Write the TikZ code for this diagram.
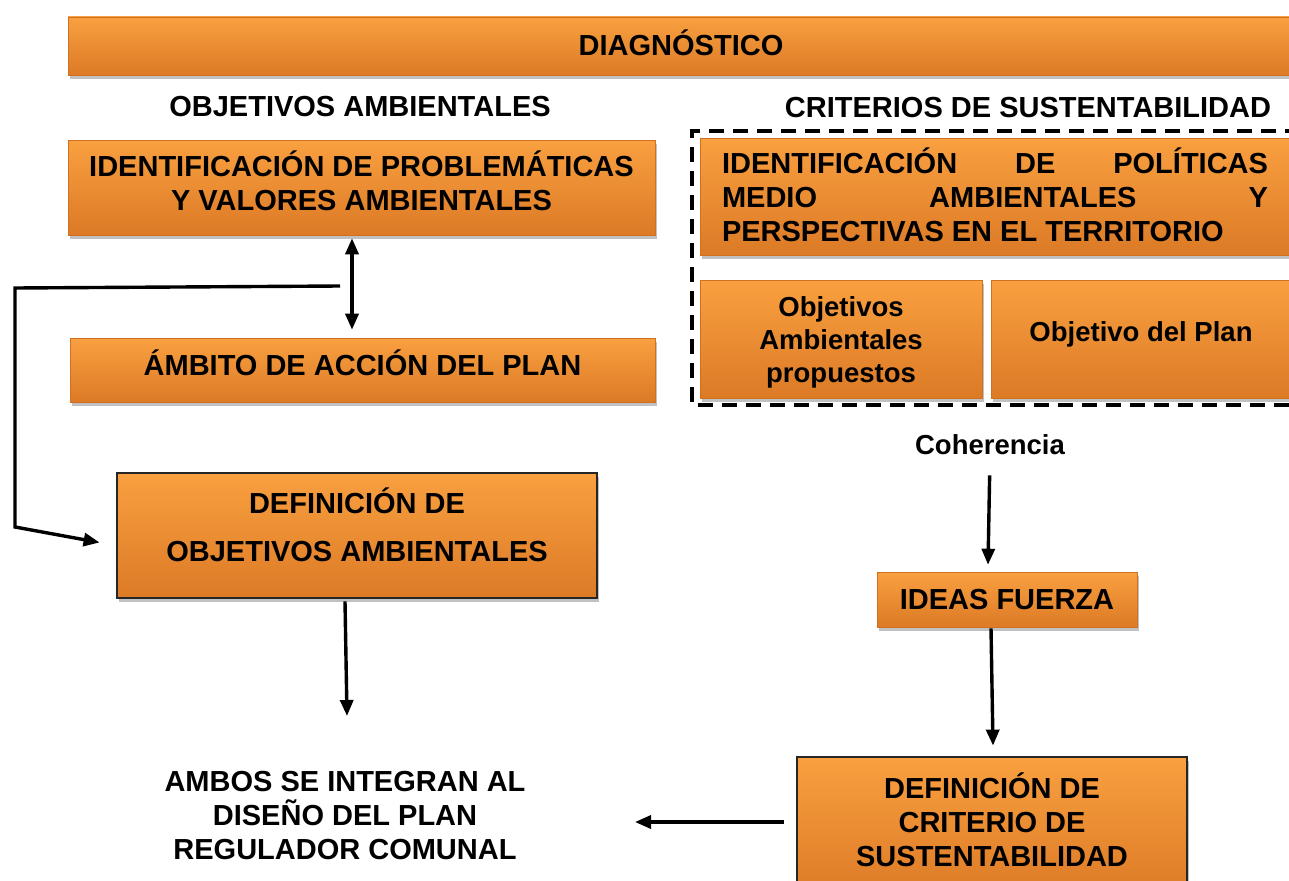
\documentclass[tikz,border=0pt]{standalone}
\usepackage{fontspec}
\setmainfont{Liberation Sans}
\usetikzlibrary{shadows,arrows.meta}
\definecolor{oTop}{HTML}{F9A040}
\definecolor{oMid}{HTML}{F69331}
\definecolor{oBot}{HTML}{DC7A26}
\definecolor{oEdge}{HTML}{D07020}
\newcommand\bigtxt{\fontsize{29}{34}\selectfont\bfseries}
\newcommand\lowtxt{\fontsize{27.5}{33}\selectfont\bfseries}
\newcommand\rb[2]{\raisebox{#1}[0pt][0pt]{\begin{tabular}{@{}c@{}}#2\end{tabular}}}
\begin{document}
\begin{tikzpicture}[x=1pt,y=-1pt,
  obox/.style={rectangle, inner sep=0pt, top color=oTop, middle color=oMid, bottom color=oBot,
    draw=oEdge, line width=0.6pt, align=center, font=\bigtxt,
    drop shadow={shadow xshift=2pt, shadow yshift=-4pt, opacity=0.35, fill=black!70}},
  dbox/.style={obox, draw=black!85, line width=2.8pt},
  plain/.style={inner sep=0pt, align=center, font=\bigtxt},
  arr/.style={line width=3.4pt, -{Triangle[length=16pt,width=13pt]}},
  darr/.style={line width=3.4pt, {Triangle[length=16pt,width=13pt]}-{Triangle[length=16pt,width=13pt]}},
  dashbox/.style={line width=4.5pt, dash pattern=on 15pt off 9pt}]
\useasboundingbox (0,0) rectangle (1289,880);
\clip (0,0) rectangle (1289,880);

% top bar
\node[obox, minimum width=1226pt, minimum height=58pt] (diag) at (681,46) {\rb{-7.85pt}{DIAGNÓSTICO}};

% headings
\node[plain] (hobj) at (360,107) {OBJETIVOS AMBIENTALES};
\node[plain] (hcrit) at (1028,108) {CRITERIOS DE SUSTENTABILIDAD};

% left column
\node[obox, minimum width=587pt, minimum height=95pt] (ident) at (361.5,187.5)
  {\rb{-4.35pt}{IDENTIFICACIÓN DE PROBLEMÁTICAS\\Y VALORES AMBIENTALES}};
\node[obox, minimum width=585pt, minimum height=64pt] (ambito) at (362.5,370)
  {\rb{-3.85pt}{ÁMBITO DE ACCIÓN DEL PLAN}};
\node[dbox, minimum width=480pt, minimum height=125pt] (defobj) at (357,535.5)
  {\rb{-0.85pt}{DEFINICIÓN DE\\[14pt]OBJETIVOS AMBIENTALES}};
\node[plain] (ambos) at (345,816)
  {AMBOS SE INTEGRAN AL\\DISEÑO DEL PLAN\\REGULADOR COMUNAL};

% right column
\draw[dashbox] (1300,131) -- (692,131) -- (692,405) -- (1300,405);
\node[obox, minimum width=590pt, minimum height=117pt] (polit) at (995,196.5)
  {\rb{-9.85pt}{\hbox to 546pt{IDENTIFICACIÓN\hfill DE\hfill POLÍTICAS}\\
   \hbox to 546pt{MEDIO\hfill AMBIENTALES\hfill Y}\\
   \hbox to 546pt{PERSPECTIVAS EN EL TERRITORIO\hfill}}};
\node[obox, font=\lowtxt, minimum width=282pt, minimum height=118pt] (objamb) at (841,339)
  {\rb{-10.1pt}{Objetivos\\Ambientales\\propuestos}};
\node[obox, font=\lowtxt, minimum width=300pt, minimum height=118pt] (objplan) at (1141,339)
  {\rb{-2.1pt}{Objetivo del Plan}};
\node[plain, font=\lowtxt] (coh) at (990,445) {Coherencia};
\node[obox, minimum width=260pt, minimum height=55pt] (ideas) at (1007,599.5) {IDEAS FUERZA};
\node[dbox, minimum width=390pt, minimum height=140pt] (defcrit) at (992,827)
  {\rb{-3.85pt}{DEFINICIÓN DE\\CRITERIO DE\\SUSTENTABILIDAD}};

% connectors
\coordinate (elb) at (340,286);
\coordinate (a1) at (347,716);
\coordinate (a2) at (635,822);
\draw[darr] ([xshift=-9.5pt,yshift=-3pt]ident.south) -- ([xshift=-10.5pt,yshift=8pt]ambito.north);
\draw[arr] (elb) -- (15,288) -- (15,527) -- ([xshift=-16pt,yshift=-7pt]defobj.west);
\draw[arr] ([xshift=-12pt,yshift=-2pt]defobj.south) -- (a1);
\draw[arr, shorten <=20pt] (coh.south) -- ([xshift=-19pt,yshift=7pt]ideas.north);
\draw[arr] ([xshift=-16pt,yshift=-1pt]ideas.south) -- ([xshift=1pt,yshift=10pt]defcrit.north);
\draw[arr] ([xshift=-12pt,yshift=5pt]defcrit.west) -- (a2);
\end{tikzpicture}
\end{document}
